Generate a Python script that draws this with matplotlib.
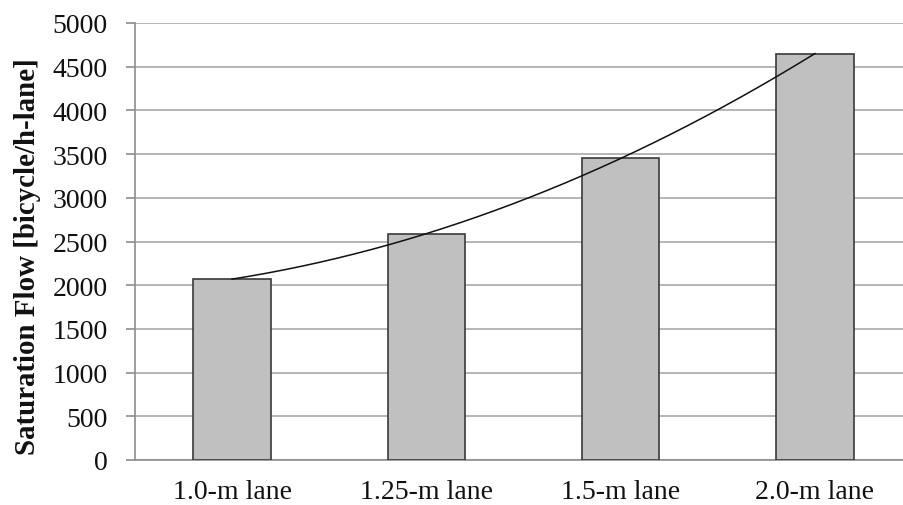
import numpy as np
import matplotlib
matplotlib.use("Agg")
import matplotlib.pyplot as plt

categories = ["1.0-m lane", "1.25-m lane", "1.5-m lane", "2.0-m lane"]
values = [2070, 2590, 3450, 4650]
yticks = list(range(0, 5001, 500))
ylabel = "Saturation Flow [bicycle/h-lane]"

plt.rcParams['font.family'] = ['Liberation Serif', 'DejaVu Serif']

W, H = 904, 506
fig = plt.figure(figsize=(W / 100, H / 100), dpi=100)
ax = fig.add_axes([135 / W, 45 / H, 777 / W, 437 / H])

x = np.arange(len(categories))
ax.bar(x, values, width=0.4, color='#c0c0c0', edgecolor='#3a3a3a', linewidth=1.2, zorder=3)

# quadratic trendline through the data
coef = np.polyfit(x, values, 2)
xs = np.linspace(x[0], x[-1], 300)
ax.plot(xs, np.polyval(coef, xs), color='#111111', linewidth=1.1, zorder=4)

ax.set_xlim(-0.5, len(categories) - 0.5)
ax.set_ylim(0, 5000)
ax.set_yticks(yticks)
ax.set_xticks(x)
ax.set_xticklabels(categories)

ax.yaxis.grid(True, color='#a8a8a8', linewidth=1.2, zorder=0)
ax.set_axisbelow(True)
for s in ['top', 'right']:
    ax.spines[s].set_visible(False)
for s in ['left', 'bottom']:
    ax.spines[s].set_color('#8c8c8c')
    ax.spines[s].set_linewidth(1.2)

ax.tick_params(axis='y', direction='out', length=6.5, width=1.2, color='#8c8c8c',
               pad=13, labelsize=20, labelcolor='#111111')
ax.tick_params(axis='x', length=0, pad=14, labelsize=20, labelcolor='#111111')

fig.text(28 / W, 1 - 257 / H, ylabel, rotation=90, ha='center', va='center',
         fontsize=20.8, fontweight='bold', color='#111111')

fig.savefig("out.png", dpi=100, facecolor='white')
